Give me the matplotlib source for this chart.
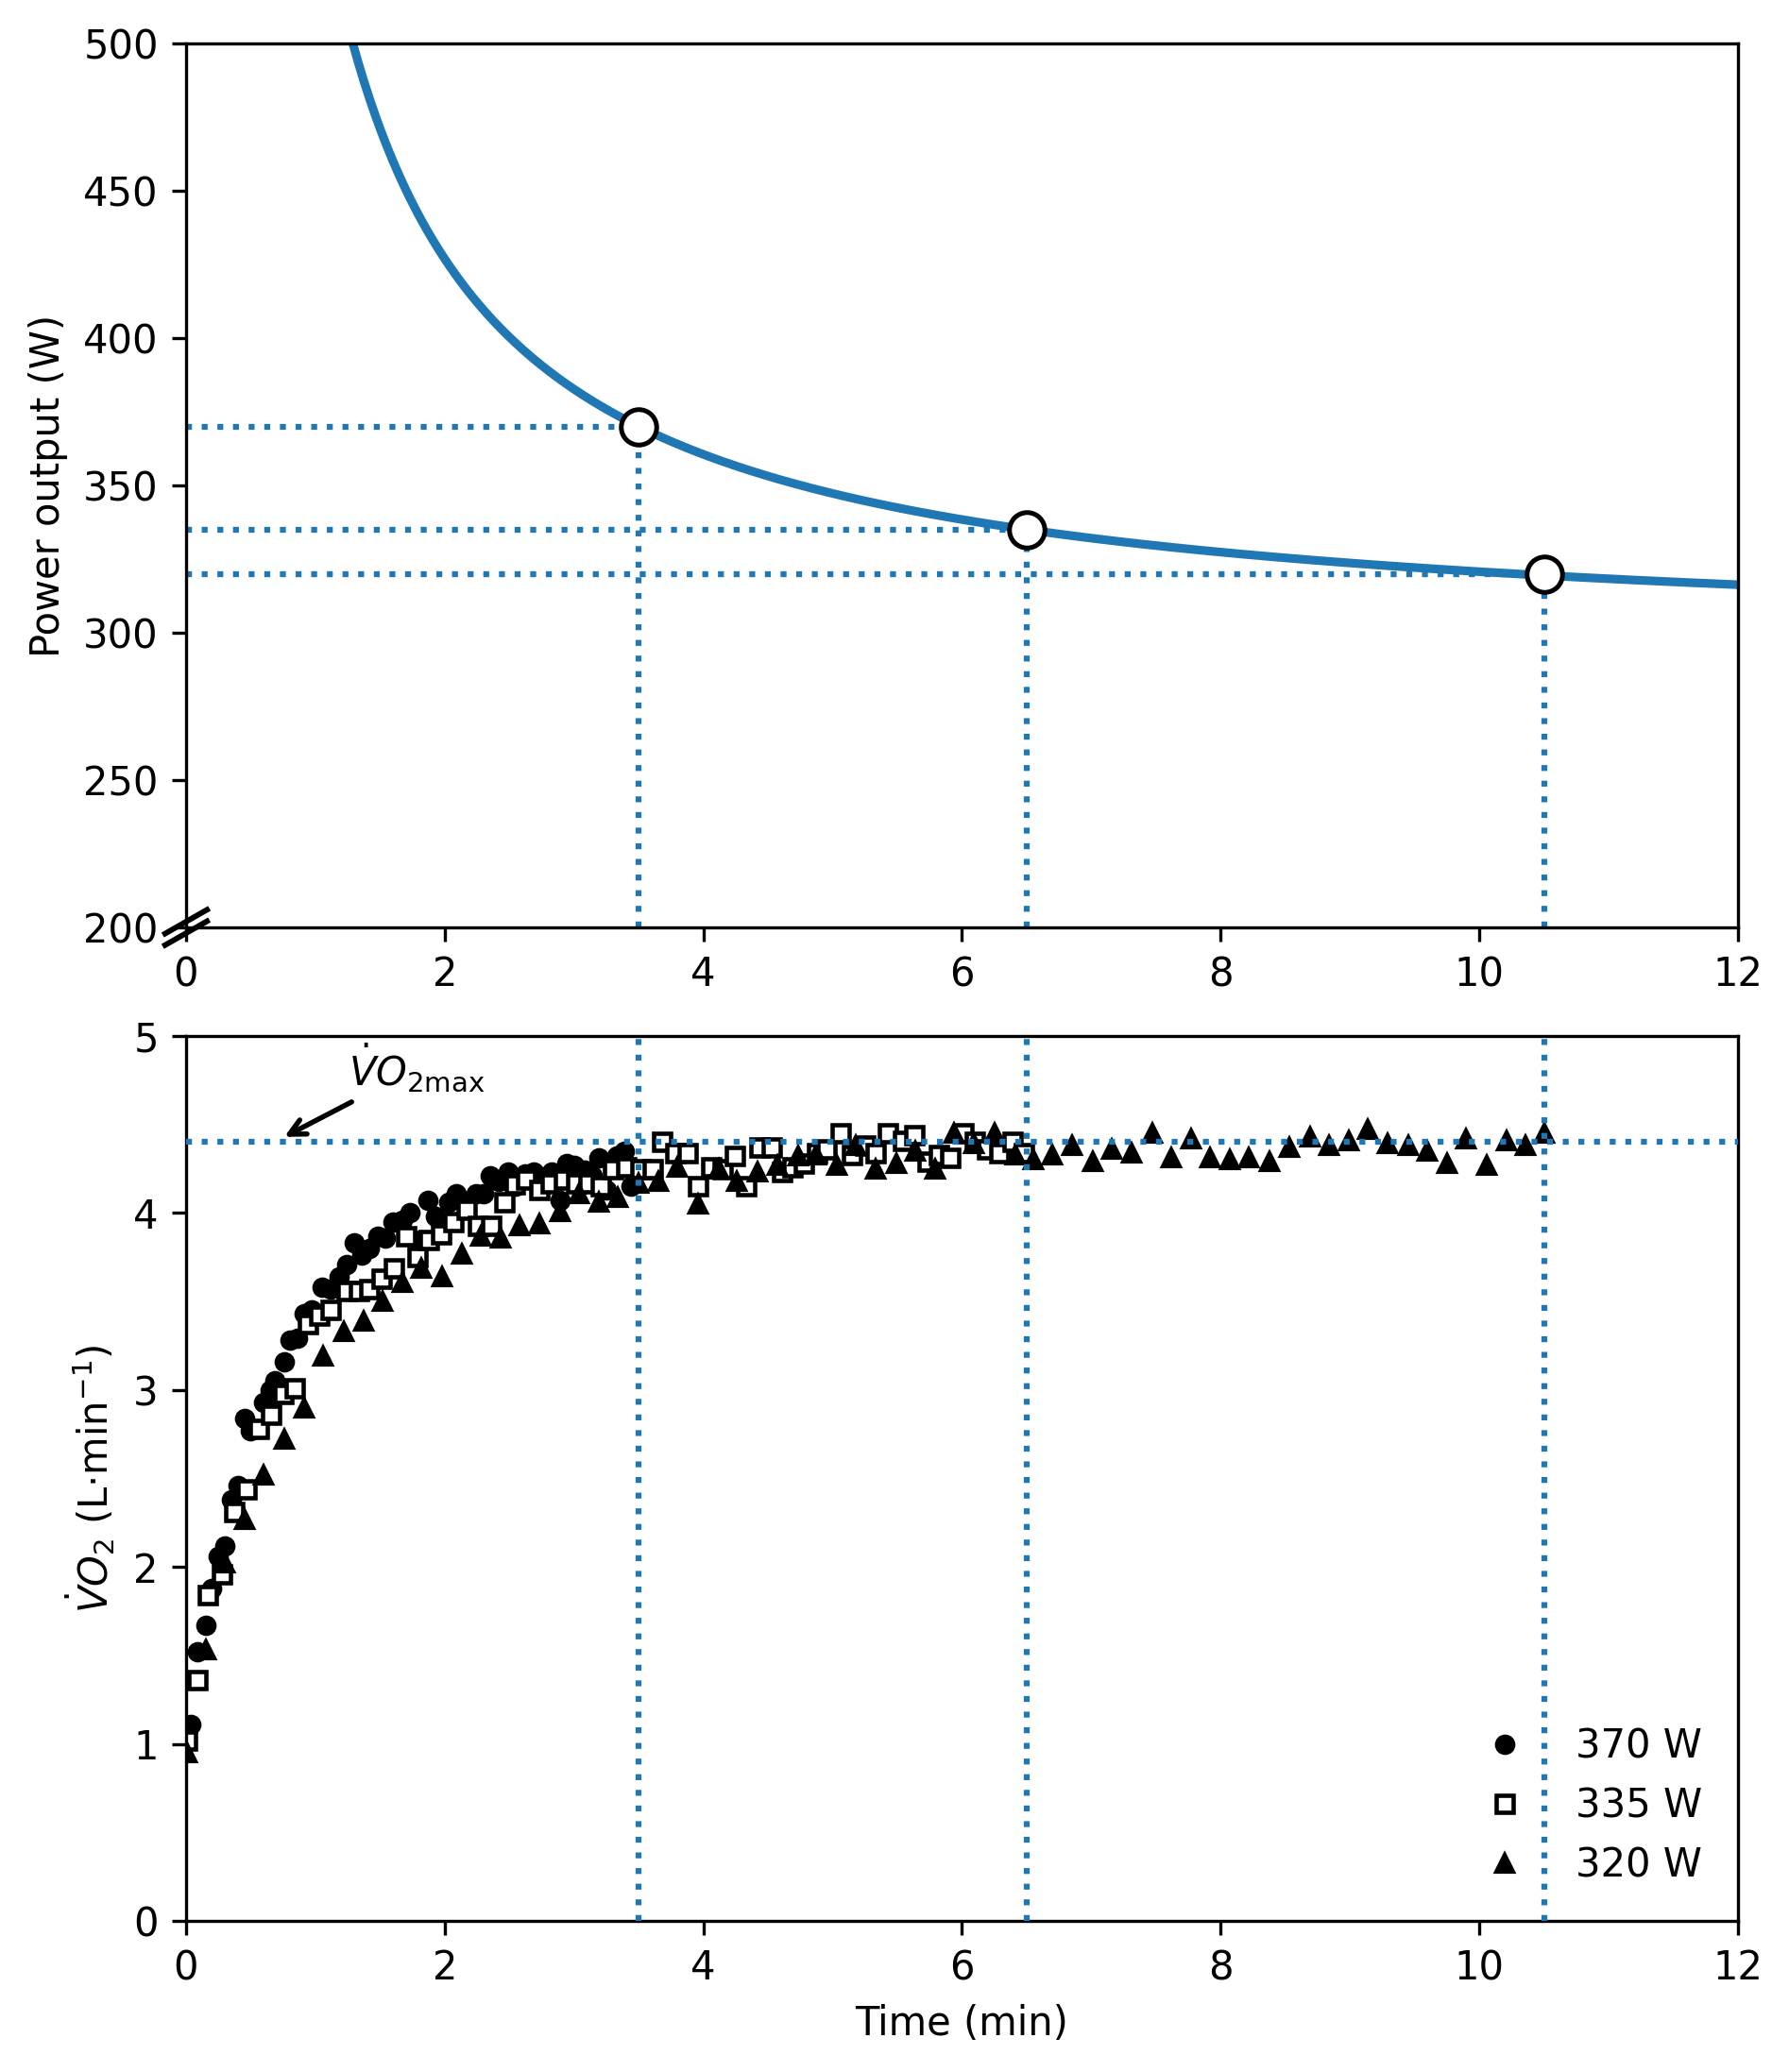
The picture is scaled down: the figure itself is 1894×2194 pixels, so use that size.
import numpy as np
import matplotlib
matplotlib.use('Agg')
import matplotlib.pyplot as plt

# critical power model (W = CP + W'/t), fitted through the three trials
cp = 294.2
w_prime = 265.4
trial_t = [3.5, 6.5, 10.5]
trial_p = [370, 335, 320]
vo2max = 4.4

# VO2 responses (L/min) vs time (min)
t370 = [0.04, 0.09, 0.15, 0.20, 0.25, 0.30, 0.35, 0.40, 0.45, 0.50, 0.55, 0.60, 0.65, 0.69, 0.76,
        0.80, 0.86, 0.91, 0.97, 1.05, 1.12, 1.18, 1.24, 1.30, 1.36, 1.42, 1.48, 1.54, 1.60, 1.67,
        1.73, 1.81, 1.87, 1.93, 2.03, 2.09, 2.16, 2.24, 2.30, 2.35, 2.42, 2.49, 2.55, 2.62, 2.69,
        2.76, 2.83, 2.89, 2.94, 3.00, 3.08, 3.14, 3.19, 3.25, 3.33, 3.39, 3.44]
v370 = [1.11, 1.52, 1.67, 1.88, 2.06, 2.12, 2.38, 2.46, 2.84, 2.77, 2.78, 2.93, 3.00, 3.05, 3.16,
        3.28, 3.29, 3.43, 3.45, 3.58, 3.57, 3.64, 3.71, 3.83, 3.76, 3.80, 3.87, 3.86, 3.95, 3.96,
        4.00, 3.85, 4.07, 3.98, 4.06, 4.11, 4.05, 4.11, 4.11, 4.21, 4.18, 4.23, 4.15, 4.22, 4.23,
        4.18, 4.23, 4.07, 4.28, 4.27, 4.24, 4.21, 4.31, 4.13, 4.32, 4.35, 4.15]

t335 = [0.01, 0.09, 0.17, 0.28, 0.37, 0.47, 0.56, 0.66, 0.75, 0.84, 0.94, 1.03, 1.12, 1.24, 1.34,
        1.42, 1.51, 1.61, 1.70, 1.79, 1.88, 1.97, 2.07, 2.17, 2.26, 2.36, 2.46, 2.54, 2.63, 2.73,
        2.82, 2.92, 3.02, 3.11, 3.21, 3.30, 3.40, 3.51, 3.61, 3.68, 3.78, 3.88, 3.96, 4.06, 4.15,
        4.24, 4.33, 4.43, 4.53, 4.61, 4.69, 4.78, 4.88, 4.95, 5.06, 5.15, 5.25, 5.33, 5.43, 5.54,
        5.63, 5.73, 5.82, 5.91, 6.01, 6.10, 6.19, 6.29, 6.39, 6.48]
v335 = [1.02, 1.36, 1.84, 1.96, 2.31, 2.44, 2.78, 2.86, 2.98, 3.01, 3.37, 3.42, 3.45, 3.56, 3.56,
        3.57, 3.63, 3.69, 3.87, 3.75, 3.85, 3.88, 3.95, 4.02, 3.93, 3.93, 4.06, 4.16, 4.19, 4.13,
        4.17, 4.19, 4.17, 4.17, 4.15, 4.25, 4.26, 4.25, 4.25, 4.40, 4.34, 4.34, 4.15, 4.26, 4.25,
        4.32, 4.15, 4.37, 4.37, 4.23, 4.26, 4.28, 4.34, 4.36, 4.45, 4.33, 4.38, 4.34, 4.45, 4.41,
        4.44, 4.29, 4.33, 4.31, 4.45, 4.40, 4.36, 4.34, 4.40, 4.34]

t320 = [0.01, 0.15, 0.30, 0.45, 0.60, 0.76, 0.91, 1.06, 1.22, 1.37, 1.52, 1.67, 1.82, 1.98, 2.13,
        2.28, 2.43, 2.58, 2.73, 2.89, 3.04, 3.19, 3.34, 3.50, 3.65, 3.80, 3.96, 4.12, 4.26, 4.42,
        4.57, 4.73, 4.87, 5.03, 5.18, 5.33, 5.49, 5.64, 5.79, 5.94, 6.09, 6.25, 6.41, 6.55, 6.70,
        6.85, 7.01, 7.16, 7.31, 7.47, 7.62, 7.77, 7.92, 8.07, 8.22, 8.38, 8.53, 8.69, 8.84, 8.99,
        9.14, 9.29, 9.45, 9.60, 9.75, 9.90, 10.06, 10.21, 10.36, 10.50]
v320 = [0.95, 1.53, 2.02, 2.27, 2.52, 2.72, 2.90, 3.19, 3.33, 3.39, 3.50, 3.61, 3.69, 3.64, 3.77,
        3.87, 3.86, 3.93, 3.94, 4.01, 4.11, 4.06, 4.09, 4.17, 4.18, 4.26, 4.05, 4.25, 4.18, 4.23,
        4.27, 4.32, 4.33, 4.27, 4.38, 4.25, 4.28, 4.35, 4.25, 4.45, 4.39, 4.45, 4.33, 4.30, 4.33,
        4.38, 4.29, 4.36, 4.34, 4.45, 4.31, 4.42, 4.31, 4.30, 4.31, 4.29, 4.37, 4.43, 4.38, 4.41,
        4.47, 4.39, 4.38, 4.35, 4.28, 4.42, 4.27, 4.41, 4.38, 4.45]

blue = '#1f77b4'

fig = plt.figure(figsize=(1894 / 300, 2194 / 300), dpi=300)
ax1 = fig.add_axes([0.104, 0.5524, 0.8675, 0.4266])
ax2 = fig.add_axes([0.104, 0.0729, 0.8675, 0.4271])

#%% top panel: power-duration curve
t = np.linspace(1.0, 12, 500)
ax1.plot(t, cp + w_prime / t, color=blue, lw=2.2, zorder=2)
for tt, pp in zip(trial_t, trial_p):
    ax1.plot([0, tt], [pp, pp], ls=':', color=blue, lw=1.5, zorder=1)
    ax1.plot([tt, tt], [200, pp], ls=':', color=blue, lw=1.5, zorder=1)
ax1.plot(trial_t, trial_p, 'o', ms=9, mfc='white', mec='black', mew=1.2, zorder=3)
ax1.set_xlim(0, 12)
ax1.set_ylim(200, 500)
ax1.set_yticks(np.arange(200, 501, 50))
ax1.set_xticks(np.arange(0, 13, 2))
ax1.set_ylabel('Power output (W)')

# axis break marks at the corner
dx, dy, off = 0.0135, 0.0135, 0.0065
for o in (-off, off):
    ax1.plot([-dx, dx], [-dy + o, dy + o], transform=ax1.transAxes, color='k',
             lw=1.4, clip_on=False, zorder=5)

#%% bottom panel: VO2 responses
ax2.plot(t370, v370, 'o', ms=4.2, color='black', label='370 W', zorder=2)
ax2.plot(t335, v335, 's', ms=4.2, mfc='white', mec='black', mew=1.1, label='335 W', zorder=2)
ax2.plot(t320, v320, '^', ms=4.4, color='black', label='320 W', zorder=2)
ax2.axhline(vo2max, ls=':', color=blue, lw=1.5, zorder=3)
for tt in trial_t:
    ax2.axvline(tt, ls=':', color=blue, lw=1.5, zorder=3)
ax2.annotate(r'$\dot{V}O_{2\mathrm{max}}$', xy=(0.76, 4.43), xytext=(1.26, 4.72),
             fontsize=10, arrowprops=dict(arrowstyle='->', color='black', lw=1.3,
                                          shrinkA=0, shrinkB=0))
ax2.set_xlim(0, 12)
ax2.set_ylim(0, 5)
ax2.set_xticks(np.arange(0, 13, 2))
ax2.set_xlabel('Time (min)')
ax2.set_ylabel(r'$\dot{V}O_2$ (L·min$^{-1}$)')
ax2.legend(loc='lower right', frameon=False)

fig.savefig('out.png', dpi=300)
